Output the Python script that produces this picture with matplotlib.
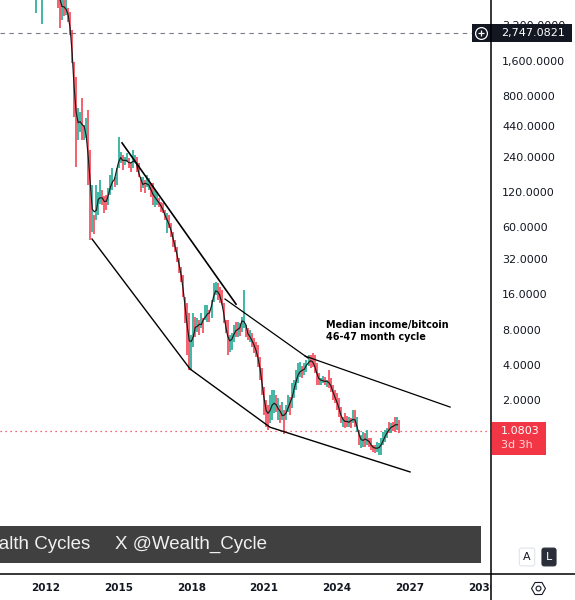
import matplotlib
matplotlib.use('Agg')
import matplotlib.pyplot as plt
import matplotlib.dates as mdates
import matplotlib.transforms as mtransforms
from matplotlib.patches import Rectangle
from matplotlib.lines import Line2D
import numpy as np
import pandas as pd

# monthly bars of median income / bitcoin, starting Aug 2011
first_month = '2011-08-01'
highs = [
    12790, 20900, 20900, 20900, 25500, 25500, 23100, 20900, 19000, 15600,
    12800, 10500, 7810, 5815, 5270, 5815, 4505, 4163, 2920, 1555,
    1157, 629, 581, 765, 450, 516, 604, 275, 138, 76.4,
    138, 120, 152, 125, 111, 113, 130, 168, 193, 161.5,
    193, 355, 264, 249, 239, 259, 235, 217, 275, 249,
    239, 213, 161.5, 161.5, 152, 168, 158, 143, 143, 125,
    118, 106.5, 99, 97, 84, 79.2, 76.4, 65.3, 54.7, 46.7,
    40.7, 32.8, 27.4, 23.4, 15.2, 13.5, 11.1, 7.19, 11.1, 10.3,
    10.1, 9.67, 11.1, 10.1, 13.0, 13.0, 11.8, 14.3, 20.0, 20.4,
    20.0, 18.56, 17.4, 13.5, 9.67, 9.67, 7.19, 7.48, 8.76, 9.30,
    9.30, 9.11, 10.3, 17.4, 8.76, 8.26, 7.94, 7.48, 6.78, 6.27,
    5.91, 4.66, 3.75, 2.59, 2.00, 1.81, 2.21, 2.44, 2.44, 2.21,
    2.08, 1.81, 1.92, 1.64, 1.81, 2.21, 2.12, 2.79, 2.96, 3.61,
    4.15, 4.23, 3.90, 4.15, 4.40, 4.85, 4.85, 5.04, 4.85, 4.15,
    3.40, 3.08, 3.21, 3.14, 2.96, 3.61, 3.08, 2.69, 2.44, 2.30,
    2.08, 1.74, 1.43, 1.55, 1.46, 1.43, 1.40, 1.64, 1.64, 1.43,
    1.11, 1.00, 1.07, 1.05, 1.11, 0.94, 0.94, 0.82, 0.82, 0.875,
    0.86, 0.94, 1.07, 1.11, 1.15, 1.30, 1.27, 1.30, 1.43, 1.43,
    1.35,
]
lows = [
    4080, 7810, 10500, 3285, 12800, 14100, 11600, 12800, 10500, 8620,
    6420, 4505, 3035, 3555, 3843, 3920, 3418, 2645, 1524, 527,
    197, 335, 391, 335, 335, 348, 138, 46.7, 54.7, 52.6,
    69.3, 76.4, 95.2, 93, 79.2, 84, 93, 113, 125, 132.7,
    138, 193, 213, 185, 205, 217, 193, 178, 193, 213,
    178, 161.5, 120, 130, 118, 132.7, 125, 108.7, 93, 89.4,
    93, 89.4, 80.8, 79.2, 69.3, 53.6, 59.2, 49.6, 40.7, 36.9,
    30.3, 24.4, 20.4, 15.2, 9.11, 4.85, 3.61, 3.61, 5.68, 6.91,
    7.63, 7.19, 8.26, 7.48, 9.67, 9.30, 9.30, 10.1, 13.75, 15.8,
    14.3, 13.5, 13.0, 9.11, 7.48, 4.85, 5.14, 5.35, 6.27, 6.91,
    6.91, 7.05, 7.63, 8.26, 6.91, 6.52, 6.27, 5.68, 5.04, 4.66,
    3.83, 2.96, 2.21, 1.49, 1.17, 1.11, 1.27, 1.35, 1.55, 1.58,
    1.35, 1.27, 1.35, 1.03, 1.35, 1.58, 1.49, 1.71, 2.08, 2.44,
    2.79, 3.14, 3.08, 3.27, 3.47, 3.90, 3.75, 3.83, 3.40, 2.69,
    2.69, 2.69, 2.79, 2.69, 2.59, 2.54, 2.35, 2.00, 1.88, 1.64,
    1.43, 1.27, 1.17, 1.15, 1.17, 1.17, 1.15, 1.27, 1.17, 1.07,
    0.82, 0.77, 0.79, 0.79, 0.82, 0.79, 0.75, 0.72, 0.71, 0.72,
    0.68, 0.68, 0.82, 0.875, 0.94, 1.05, 1.05, 1.09, 1.07, 1.11,
    1.05,
]
# U = month closed higher, D = closed lower
moves = ("UUDUUDDUDD" "DDDUDUDDDD" "DUUDUUDDUD" "UUUDDDUUUD" "UUUDUUDDUU"
         "DDDUDUUDDU" "UDDDDUDDDD" "DDDDDDDUUD" "UDUDUUDUUU" "DDDDDDUUUD"
         "UDUUDDUDDD" "DDDDDDUUUD" "UDUDUUDUUU" "UUDUUUDDDD" "DUUDUDDDDD"
         "DDUDDUDUDU" "DUUDUDDDDU" "UUUUUDUDDU" "D")

last_price = 1.0803
last_countdown = '3d 3h'
alert_price = 2747.0821
price_ticks = [3200, 1600, 800, 440, 240, 120, 60, 32, 16, 8, 4, 2]
year_ticks = [2012, 2015, 2018, 2021, 2024, 2027, 2030]

# hand drawn channel lines (date, value)
upper_a = [('2015-02-22', 316), ('2019-11-05', 13.2)]
upper_b = [('2019-05-23', 14.6), ('2022-10-24', 4.57)]
upper_c = [('2022-09-10', 4.75), ('2028-09-02', 1.74)]
lower = [('2013-11-27', 47.6), ('2017-12-13', 3.68), ('2021-03-31', 1.17), ('2027-01-08', 0.485)]

note_text = 'Median income/bitcoin\n46-47 month cycle'
note_at = ('2023-07-23', 9.6)
brand_left = 'Wealth Cycles'
brand_right = 'X @Wealth_Cycle'

UP = '#0fa38b'
DOWN = '#f23645'
W, H = 575, 600


def fx(px):
    return px / W


def fy(py):
    return 1 - py / H


fig = plt.figure(figsize=(W / 100, H / 100), dpi=100)
ax = fig.add_axes([0, fy(574), fx(491), 574 / H])
for s in ax.spines.values():
    s.set_visible(False)

dates = pd.date_range(first_month, periods=len(highs), freq='MS')
hi = np.array(highs, dtype=float)
lo = np.array(lows, dtype=float)
cols = [UP if m == 'U' else DOWN for m in moves]
ax.vlines(dates, lo, hi, colors=cols, lw=1.1, zorder=2)

# smoothed line through the bars
mid = np.sqrt(hi * lo)
ma = np.exp(pd.Series(np.log(mid)).rolling(3, center=True).mean())
ax.plot(dates, ma, color='#1a1a1a', lw=0.85, zorder=3)

for seg, lw in ((upper_a, 1.2), (upper_b, 0.9), (upper_c, 0.9), (lower, 1.0)):
    ax.plot([pd.Timestamp(d) for d, _ in seg], [v for _, v in seg], color='black', lw=lw, zorder=4)

ax.set_yscale('log')
ax.set_xlim(pd.Timestamp('2010-02-10'), pd.Timestamp('2030-05-11'))
ax.set_ylim(0.065, 5270)

ax.axhline(alert_price, color='#787b86', lw=0.8, dashes=(4, 4), zorder=1)
ax.axhline(last_price, color=DOWN, lw=0.9, dashes=(1, 3), zorder=1)

ax.text(pd.Timestamp(note_at[0]), note_at[1], note_text, fontsize=6.9, fontweight='bold',
        va='top', ha='left', linespacing=1.15, zorder=5)

# price axis on the right
ax.yaxis.tick_right()
ax.yaxis.set_minor_locator(matplotlib.ticker.NullLocator())
ax.set_yticks(price_ticks)
ax.set_yticklabels([f'{v:,.4f}' for v in price_ticks])
ax.tick_params(axis='y', length=0, pad=8, labelsize=8, labelcolor='#131722')
ax.set_xticks([])

# year labels, clipped at the price axis
trans = mtransforms.blended_transform_factory(ax.transData, fig.transFigure)
clip = mtransforms.TransformedBbox(mtransforms.Bbox([[0, 0], [fx(491), 1]]), fig.transFigure)
for yr in year_ticks:
    xd = mdates.date2num(pd.Timestamp(f'{yr}-01-01'))
    t = fig.text(xd, fy(588), str(yr), fontsize=7.5, fontweight='bold', ha='center', va='center',
                 color='#131722', transform=trans)
    t.set_clip_on(True)
    t.set_clip_box(clip)

# watermark band
band_y0 = (574 - 563) / 574
band_h = 37 / 574
ax.add_patch(Rectangle((0, band_y0), 481 / 491, band_h, transform=ax.transAxes,
                       fc='#404040', ec='none', zorder=6))
ax.text(90 / 491, band_y0 + band_h / 2, brand_left, transform=ax.transAxes, color='#f0f0f0',
        fontsize=13.5, ha='right', va='center', family='Liberation Sans', zorder=7)
ax.text(115 / 491, band_y0 + band_h / 2, brand_right, transform=ax.transAxes, color='#f0f0f0',
        fontsize=13.5, ha='left', va='center', family='Liberation Sans', zorder=7)

# frame lines
fig.add_artist(Line2D([fx(491), fx(491)], [0, 1], color='black', lw=1.1))
fig.add_artist(Line2D([0, 1], [fy(574), fy(574)], color='black', lw=1.1))

# price tags
x0 = mdates.date2num(pd.Timestamp('2020-01-01'))
ya = ax.transData.transform((x0, alert_price))[1] / H
fig.add_artist(Rectangle((fx(472), ya - 9 / H), 100 / W, 18 / H, transform=fig.transFigure,
                         fc='#131722', ec='none'))
fig.add_artist(Line2D([fx(481)], [ya], marker='o', ms=8.5, mfc='none', mec='white', mew=0.9))
fig.add_artist(Line2D([fx(481)], [ya], marker='+', ms=5, mec='white', mew=0.9))
fig.text(fx(501), ya, f'{alert_price:,.4f}', color='white', fontsize=8, va='center', ha='left')

yl = ax.transData.transform((x0, last_price))[1] / H
fig.add_artist(Rectangle((fx(492), yl - 24 / H), 54 / W, 33 / H, transform=fig.transFigure,
                         fc=DOWN, ec='none'))
fig.text(fx(501), yl, f'{last_price:.4f}', color='white', fontsize=8, va='center', ha='left')
fig.text(fx(501), yl - 14 / H, last_countdown, color='#ffd6d9', fontsize=8, va='center', ha='left')

# scale buttons and settings icon
fig.text(fx(527), fy(557), 'A', fontsize=8, ha='center', va='center', color='#131722',
         bbox=dict(boxstyle='round,pad=0.35,rounding_size=0.2', fc='white', ec='#e0e3eb', lw=0.8))
fig.text(fx(549), fy(557), 'L', fontsize=8, ha='center', va='center', color='white',
         bbox=dict(boxstyle='round,pad=0.35,rounding_size=0.2', fc='#2a2e39', ec='#2a2e39', lw=0.8))
fig.add_artist(Line2D([fx(538)], [fy(588)], marker='H', ms=10, mfc='none', mec='#131722', mew=0.8))
fig.add_artist(Line2D([fx(538)], [fy(588)], marker='o', ms=3.5, mfc='none', mec='#131722', mew=0.8))

fig.savefig('out.png', dpi=100, facecolor='white')
